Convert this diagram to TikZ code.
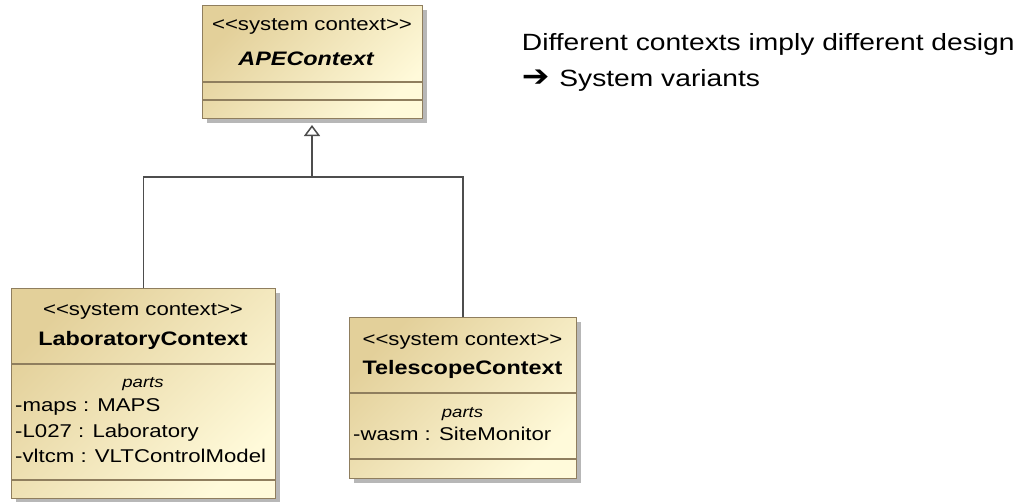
\documentclass[tikz,border=0pt]{standalone}
\usepackage{fontspec}
\setmainfont{Liberation Sans}[FakeStretch=1.2]
\newfontfamily\dingfont{DejaVu Sans}[FakeStretch=1.1]
\usetikzlibrary{arrows.meta,shadows}
\definecolor{umltan}{HTML}{E3D09A}
\definecolor{umlcream}{HTML}{FFFADA}
\definecolor{umlborder}{HTML}{8F7E5E}
\definecolor{linecol}{HTML}{4D4D4D}
\tikzset{
 umlbox/.style={draw=umlborder, line width=1.4pt, top color=umltan, bottom color=umlcream,
   shading angle=45, inner sep=0pt, anchor=north west,
   drop shadow={shadow xshift=4pt, shadow yshift=-4pt, fill=black!35, opacity=0.8}},
 sep/.style={draw=umlborder, line width=1.2pt},
 stereo/.style={anchor=base, inner sep=0pt, font=\fontsize{18.5}{22}\selectfont},
 cname/.style={anchor=base, inner sep=0pt, font=\fontsize{19.5}{23}\selectfont\bfseries},
 partslbl/.style={anchor=base, inner sep=0pt, font=\fontsize{15.5}{18}\selectfont\itshape},
 attr/.style={anchor=base west, inner sep=0pt, font=\fontsize{18.5}{22}\selectfont},
 gen/.style={draw=linecol, line width=1.5pt},
 note/.style={anchor=base west, inner sep=0pt, font=\fontsize{23.5}{28}\selectfont},
}
\begin{document}
\begin{tikzpicture}[x=1pt,y=-1pt]
\useasboundingbox[fill=white] (0,0) rectangle (1031,501);
% APEContext
\node[umlbox, minimum width=220pt, minimum height=113pt] (ape) at (202,5) {};
\draw[sep] (ape.west |- 0,82) -- (ape.east |- 0,82);
\draw[sep] (ape.west |- 0,100) -- (ape.east |- 0,100);
\node[stereo] (apeS) at (312,30) {{<}{<}system context{>}{>}};
\node[cname, font=\fontsize{19.5}{23}\selectfont\bfseries\itshape] (apeN) at (306,65) {APEContext};
% LaboratoryContext
\node[umlbox, minimum width=264pt, minimum height=210pt] (lab) at (11,288) {};
\draw[sep] (lab.west |- 0,364) -- (lab.east |- 0,364);
\draw[sep] (lab.west |- 0,480) -- (lab.east |- 0,480);
\node[stereo] (labS) at (143,315) {{<}{<}system context{>}{>}};
\node[cname] (labN) at (143,345.5) {LaboratoryContext};
\node[partslbl] (labP) at (143,387) {parts};
\node[attr] (labA1) at (15,411) {-maps : MAPS};
\node[attr] (labA2) at (15,437) {-L027 : Laboratory};
\node[attr] (labA3) at (15,462.7) {-vltcm : VLTControlModel};
% TelescopeContext
\node[umlbox, minimum width=227pt, minimum height=161pt] (tel) at (349,317) {};
\draw[sep] (tel.west |- 0,393) -- (tel.east |- 0,393);
\draw[sep] (tel.west |- 0,459) -- (tel.east |- 0,459);
\node[stereo] (telS) at (462.5,345) {{<}{<}system context{>}{>}};
\node[cname] (telN) at (462.5,374) {TelescopeContext};
\node[partslbl] (telP) at (462.5,417) {parts};
\node[attr] (telA1) at (353,440.7) {-wasm : SiteMonitor};
% generalization
\coordinate (junc) at (312,177);
\coordinate (apetip) at (312,125);
\draw[gen] (lab.north) |- (junc) -| (tel.north);
\draw[gen, -{Triangle[open, width=16pt, length=11pt]}] (junc) -- (apetip);
% note
\node[note] (n1) at (521.7,50) {Different contexts imply different design};
\node[note] (n2) at (521.7,86.7) {{\dingfont\bfseries\fontsize{30}{30}\selectfont ➔}\hspace{2pt} System variants};
\end{tikzpicture}
\end{document}
